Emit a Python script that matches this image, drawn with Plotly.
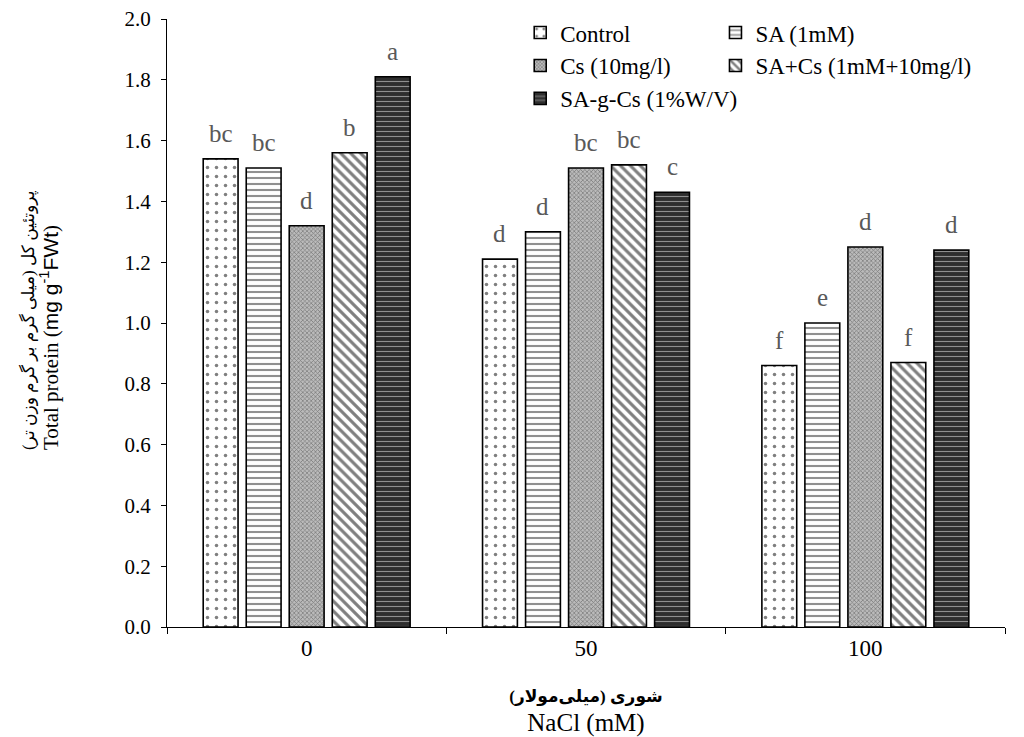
import plotly.graph_objects as go

categories = ["0", "50", "100"]
series_names = ["Control", "SA (1mM)", "Cs (10mg/l)", "SA+Cs (1mM+10mg/l)", "SA-g-Cs (1%W/V)"]
control = [1.54, 1.21, 0.86]
sa = [1.51, 1.30, 1.00]
cs = [1.32, 1.51, 1.25]
sa_cs = [1.56, 1.52, 0.87]
sa_g_cs = [1.81, 1.43, 1.24]
letters_control = ["bc", "d", "f"]
letters_sa = ["bc", "d", "e"]
letters_cs = ["d", "bc", "d"]
letters_sa_cs = ["b", "bc", "f"]
letters_sa_g_cs = ["a", "c", "d"]
y_ticks = [0.0, 0.2, 0.4, 0.6, 0.8, 1.0, 1.2, 1.4, 1.6, 1.8, 2.0]

values = [control, sa, cs, sa_cs, sa_g_cs]
letters = [letters_control, letters_sa, letters_cs, letters_sa_cs, letters_sa_g_cs]
legend_ids = ["legend", "legend2", "legend", "legend2", "legend"]
patterns = [
    dict(shape=".", bgcolor="white", fgcolor="black", size=9, solidity=0.12),
    dict(shape="-", bgcolor="white", fgcolor="#222222", size=6, solidity=0.35),
    dict(shape="x", bgcolor="#bbbbbb", fgcolor="#333333", size=3, solidity=0.4),
    dict(shape="\\", bgcolor="white", fgcolor="black", size=7, solidity=0.45),
    dict(shape="-", bgcolor="#2e2e2e", fgcolor="#f0f0f0", size=5, solidity=0.22),
]

serif = "Liberation Serif, Times New Roman, serif"
mixed = "Liberation Serif, DejaVu Sans, serif"

# page body has an 8px margin, so the figure is drawn 8px smaller
fig_w, fig_h = 1016, 729
m_l, m_r, m_t, m_b = 159, 19, 11, 110

# layout constants for placing letters above grouped bars
n_series = len(series_names)
plot_w = fig_w - m_l - m_r
bargap = 0.23
cat_px = plot_w / len(categories)
slot_px = cat_px * (1 - bargap) / n_series

fig = go.Figure()
for i, (name, vals, lets, pat, lg) in enumerate(zip(series_names, values, letters, patterns, legend_ids)):
    fig.add_trace(go.Bar(
        x=categories, y=vals, name=name, legend=lg, legendgroup=name,
        marker=dict(color=pat["bgcolor"], pattern=pat, line=dict(color="black", width=1.6)),
    ))
    for j, (v, t) in enumerate(zip(vals, lets)):
        fig.add_annotation(x=j, y=v, text=t, showarrow=False, xref="x", yref="y",
                           xanchor="center", yanchor="bottom",
                           xshift=(i - (n_series - 1) / 2) * slot_px, yshift=10,
                           font=dict(family=serif, size=25, color="#595959"))

# y-axis title (two left-aligned lines, rotated)
fig.add_annotation(
    xref="paper", yref="paper", x=-0.1506, y=0.5045, xanchor="center", yanchor="middle",
    textangle=-90, align="left", showarrow=False,
    text=("<span style='font-size:17px'>پروتئین کل (میلی گرم بر گرم وزن تر)</span><br>"
          "<span style='font-size:21px'>Total protein (<span style='font-family:Liberation Sans'>mg g<sup>-1</sup>FWt</span>)</span>"),
    font=dict(family=mixed, size=19, color="black"),
)

leg_common = dict(orientation="v", yanchor="top", xanchor="left", y=1.013,
                  font=dict(family=serif, size=23), tracegroupgap=0,
                  bgcolor="rgba(0,0,0,0)", itemwidth=30)

fig.update_layout(
    width=fig_w, height=fig_h,
    barmode="group", bargap=bargap, bargroupgap=0.19,
    plot_bgcolor="white", paper_bgcolor="white",
    margin=dict(l=m_l, r=m_r, t=m_t, b=m_b, autoexpand=False),
    font=dict(family=serif, size=21, color="black"),
    legend=dict(x=0.4215, **leg_common),
    legend2=dict(x=0.6545, **leg_common),
    xaxis=dict(type="category", range=[-0.5, 2.5], autorange=False,
               showline=True, linecolor="black", linewidth=1, ticks="outside",
               tickson="boundaries", ticklen=6, tickcolor="black", automargin=False,
               tickfont=dict(family=serif, size=23),
               title=dict(text=("<span style='font-size:17px'><b>شوری (میلی‌مولار)</b></span><br>"
                                "<span style='font-size:25px'>NaCl (mM)</span>"),
                          font=dict(family=mixed, size=22), standoff=31)),
    yaxis=dict(range=[0, 2.0], tickvals=y_ticks, tickformat=".1f", showgrid=False,
               showline=True, linecolor="black", linewidth=1, ticks="outside",
               ticklen=5, tickcolor="black", automargin=False, ticklabelstandoff=6,
               ticklabeloverflow="allow",
               tickfont=dict(family=serif, size=21)),
)

fig.write_html("out.html")
